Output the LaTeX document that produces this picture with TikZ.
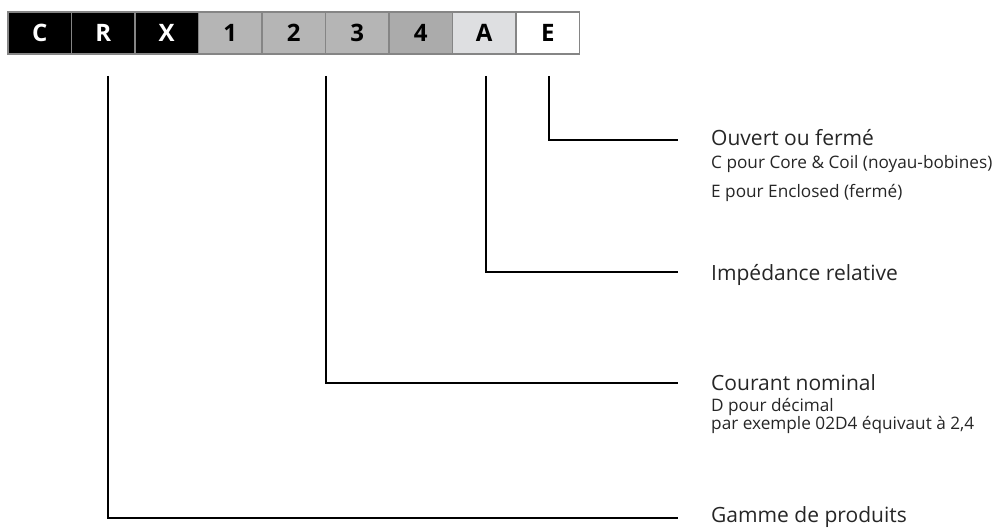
\documentclass[tikz,border=0pt]{standalone}
\usepackage{fontspec}
\setmainfont{Open Sans}
\definecolor{gA}{HTML}{B5B5B5}
\definecolor{gB}{HTML}{ABABAB}
\definecolor{gC}{HTML}{DEDFE1}
\definecolor{bord}{HTML}{858585}
\begin{document}
\begin{tikzpicture}[x=1pt,y=-1pt,
  cell/.style={draw=bord,line width=1.6pt,minimum width=63.5pt,minimum height=42pt,inner sep=0pt,
    font=\fontsize{24}{24}\selectfont\bfseries},
  dark/.style={cell,fill=black,text=white},
  mid/.style={cell,fill=gA,text=black},
  midd/.style={cell,fill=gB,text=black},
  light/.style={cell,fill=gC,text=black},
  white/.style={cell,fill=white,text=black},
  lead/.style={line width=2pt,black},
  big/.style={anchor=base west,inner sep=0pt,font=\fontsize{21}{21}\selectfont,text=black!85},
  small/.style={anchor=base west,inner sep=0pt,font=\fontsize{17.2}{17.2}\selectfont,text=black!85}]
\useasboundingbox (0,0) rectangle (1000,529);
\node[dark]  (b1) at (39.75,33) {C};
\node[dark]  (b2) at (103.25,33) {R};
\node[dark]  (b3) at (166.75,33) {X};
\node[mid]   (b4) at (230.25,33) {1};
\node[mid]   (b5) at (293.75,33) {2};
\node[mid]   (b6) at (357.25,33) {3};
\node[midd]  (b7) at (420.75,33) {4};
\node[light] (b8) at (484.25,33) {A};
\node[white] (b9) at (547.75,33) {E};
% leader start and end points
\coordinate (sE) at (549,76);   \coordinate (eE) at (678,140);
\coordinate (sA) at (486,76);   \coordinate (eA) at (678,272);
\coordinate (s3) at (326,76);   \coordinate (e3) at (678,383);
\coordinate (sR) at (107.5,76); \coordinate (eR) at (678,518);
\draw[lead] (sE) |- (eE);
\draw[lead] (sA) |- (eA);
\draw[lead] (s3) |- (e3);
\draw[lead] (sR) |- (eR);
% texts
\node[big]   (tE)  at (711,146) {Ouvert ou fermé};
\node[small] (tE1) at (711,169) {C pour Core \& Coil (noyau-bobines)};
\node[small] (tE2) at (711,198) {E pour Enclosed (fermé)};
\node[big]   (tA)  at (711,280) {Impédance relative};
\node[big]   (t3)  at (711,390) {Courant nominal};
\node[small] (t31) at (711,411) {D pour décimal};
\node[small] (t32) at (711,429) {par exemple 02D4 équivaut à 2,4};
\node[big]   (tR)  at (711,522.5) {Gamme de produits};
\end{tikzpicture}
\end{document}
